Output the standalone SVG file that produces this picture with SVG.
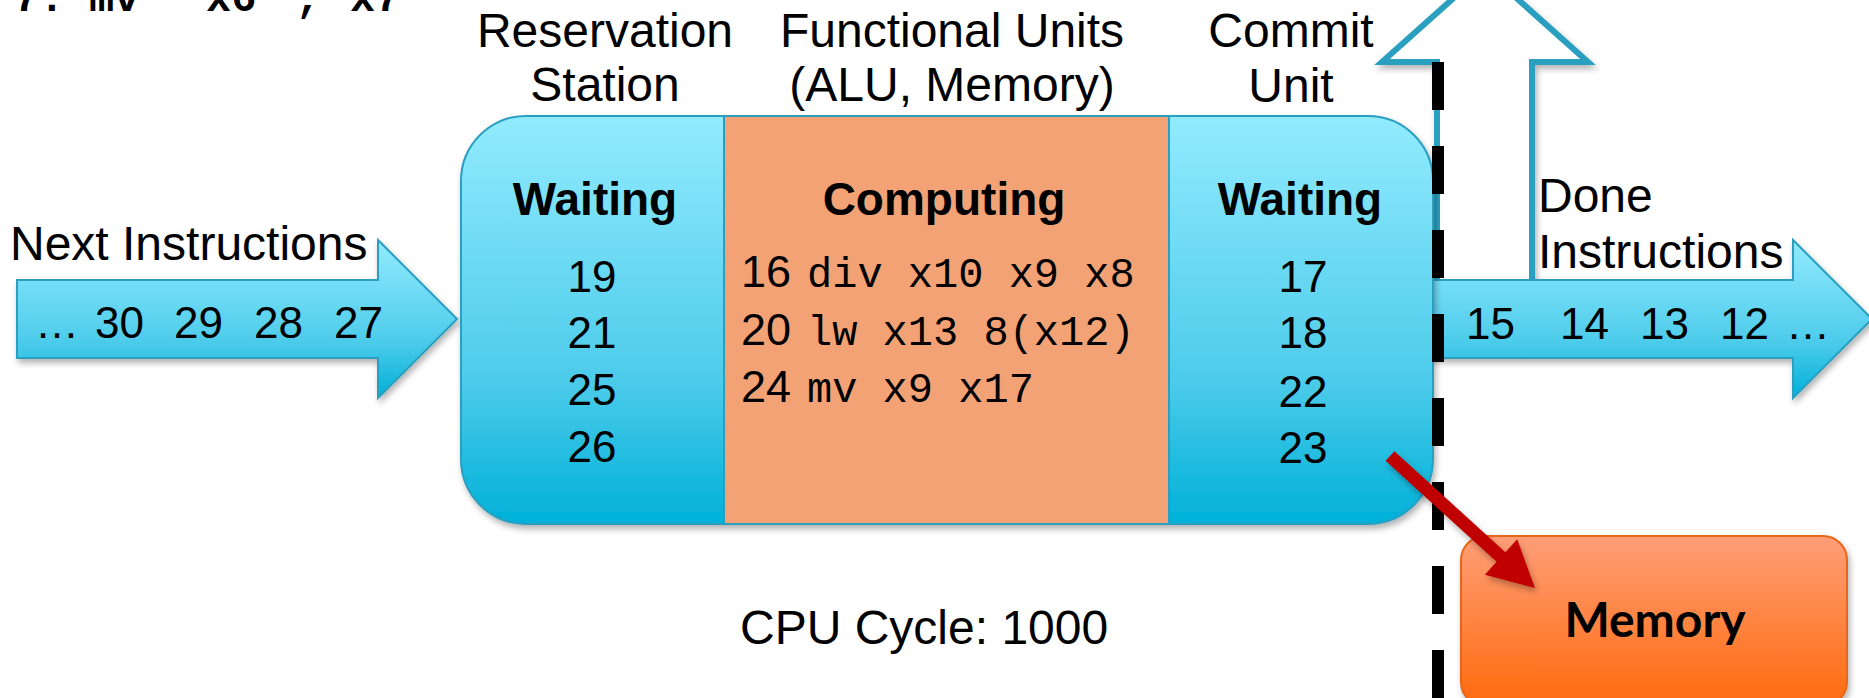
<svg xmlns="http://www.w3.org/2000/svg" width="1869" height="698" viewBox="0 0 1869 698">
<style>
.lbl{font-family:"Liberation Sans",Arial,Helvetica,sans-serif;font-size:48px;fill:#000}
.num{font-family:"Liberation Sans",Arial,Helvetica,sans-serif;font-size:44px;fill:#000}
.hd{font-family:"Liberation Sans",Arial,Helvetica,sans-serif;font-size:46px;font-weight:bold;fill:#000}
.code{font-family:"Liberation Mono","Courier New",monospace;font-size:42px;fill:#000}
.mid{text-anchor:middle}
.blue{fill:url(#blueGrad);stroke:#2A9FC0;stroke-width:2}
</style>
<defs>
<linearGradient id="blueGrad" x1="0" y1="0" x2="0" y2="1">
<stop offset="0" stop-color="#92EBFE"/>
<stop offset="0.65" stop-color="#4CCBEA"/>
<stop offset="1" stop-color="#00B0D8"/>
</linearGradient>
<linearGradient id="orangeGrad" x1="0" y1="0" x2="0" y2="1">
<stop offset="0" stop-color="#FF9E78"/>
<stop offset="1" stop-color="#FF6A0C"/>
</linearGradient>
<filter id="shadow" x="-10%" y="-10%" width="120%" height="130%">
<feDropShadow dx="2" dy="4" stdDeviation="3" flood-color="#000" flood-opacity="0.3"/>
</filter>
</defs>

<g id="top-text">
<text class="code" y="11" style="font-weight:bold"><tspan x="14">7: </tspan><tspan x="89">mv </tspan><tspan x="206">x6 </tspan><tspan x="296">, </tspan><tspan x="350">x7</tspan></text>
</g>

<g id="labels">
<text class="lbl mid" x="605" y="47">Reservation</text>
<text class="lbl mid" x="605" y="101">Station</text>
<text class="lbl mid" x="952" y="47">Functional Units</text>
<text class="lbl mid" x="952" y="101">(ALU, Memory)</text>
<text class="lbl mid" x="1291" y="47">Commit</text>
<text class="lbl mid" x="1291" y="102">Unit</text>
</g>

<g id="up-arrow">
<path d="M1437,284 V62 H1382 L1485,-30 L1588,62 H1532 V284" fill="#fff" stroke="#2A9FC0" stroke-width="6" filter="url(#shadow)"/>
</g>

<g id="done-arrow">
<path class="blue" d="M1425,280 H1793 V240 L1872,319 L1793,398 V358 H1425 Z" filter="url(#shadow)"/>
<text class="num" y="339"><tspan x="1466">15 </tspan><tspan x="1560">14 </tspan><tspan x="1640">13 </tspan><tspan x="1720">12 </tspan><tspan x="1786">…</tspan></text>
<text class="lbl" x="1538" y="212">Done</text>
<text class="lbl" x="1538" y="268">Instructions</text>
</g>

<g id="next-arrow">
<path class="blue" d="M17,280 H378 V240 L457,319 L378,398 V358 H17 Z" filter="url(#shadow)"/>
<text class="lbl" x="10" y="260">Next Instructions</text>
<text class="num" y="338"><tspan x="35">… </tspan><tspan x="95">30 </tspan><tspan x="174">29 </tspan><tspan x="254">28 </tspan><tspan x="334">27</tspan></text>
</g>

<g id="pipeline-box">
<rect class="blue" x="461" y="116" width="972" height="408" rx="65" ry="65" filter="url(#shadow)"/>
<rect x="724" y="116" width="445" height="408" fill="#F3A275" stroke="#2A9FC0" stroke-width="2"/>
</g>

<g id="reservation-station">
<text class="hd mid" x="595" y="215">Waiting</text>
<text class="num mid" x="592" y="292">19</text>
<text class="num mid" x="592" y="348">21</text>
<text class="num mid" x="592" y="405">25</text>
<text class="num mid" x="592" y="462">26</text>
</g>

<g id="functional-units">
<text class="hd mid" x="944" y="215">Computing</text>
<text class="num" x="741" y="287" style="font-size:45px">16</text>
<text class="code" x="807" y="287">div x10 x9 x8</text>
<text class="num" x="741" y="345" style="font-size:45px">20</text>
<text class="code" x="807" y="345">lw x13 8(x12)</text>
<text class="num" x="741" y="402" style="font-size:45px">24</text>
<text class="code" x="807" y="402">mv x9 x17</text>
</g>

<g id="commit-unit">
<text class="hd mid" x="1300" y="215">Waiting</text>
<text class="num mid" x="1303" y="292">17</text>
<text class="num mid" x="1303" y="348">18</text>
<text class="num mid" x="1303" y="407">22</text>
<text class="num mid" x="1303" y="463">23</text>
</g>

<g id="memory">
<rect x="1461" y="536" width="386" height="170" rx="24" ry="24" fill="url(#orangeGrad)" stroke="#E8661A" stroke-width="2" filter="url(#shadow)"/>
<text x="1655" y="637" text-anchor="middle" style="font-family:Lato,'Open Sans',sans-serif;font-weight:bold;font-size:48px">Memory</text>
</g>

<g id="connectors">
<line x1="1438" y1="62" x2="1438" y2="698" stroke="#000" stroke-width="12" stroke-dasharray="48 36"/>
<path d="M1394.4,451.2 L1505.4,552.2 L1517.2,539.2 L1535,588 L1484.8,574.8 L1496.6,561.8 L1385.6,460.8 Z" fill="#C00000" filter="url(#shadow)"/>
</g>

<g id="cycle">
<text class="lbl" x="740" y="644">CPU Cycle: 1000</text>
</g>
</svg>
